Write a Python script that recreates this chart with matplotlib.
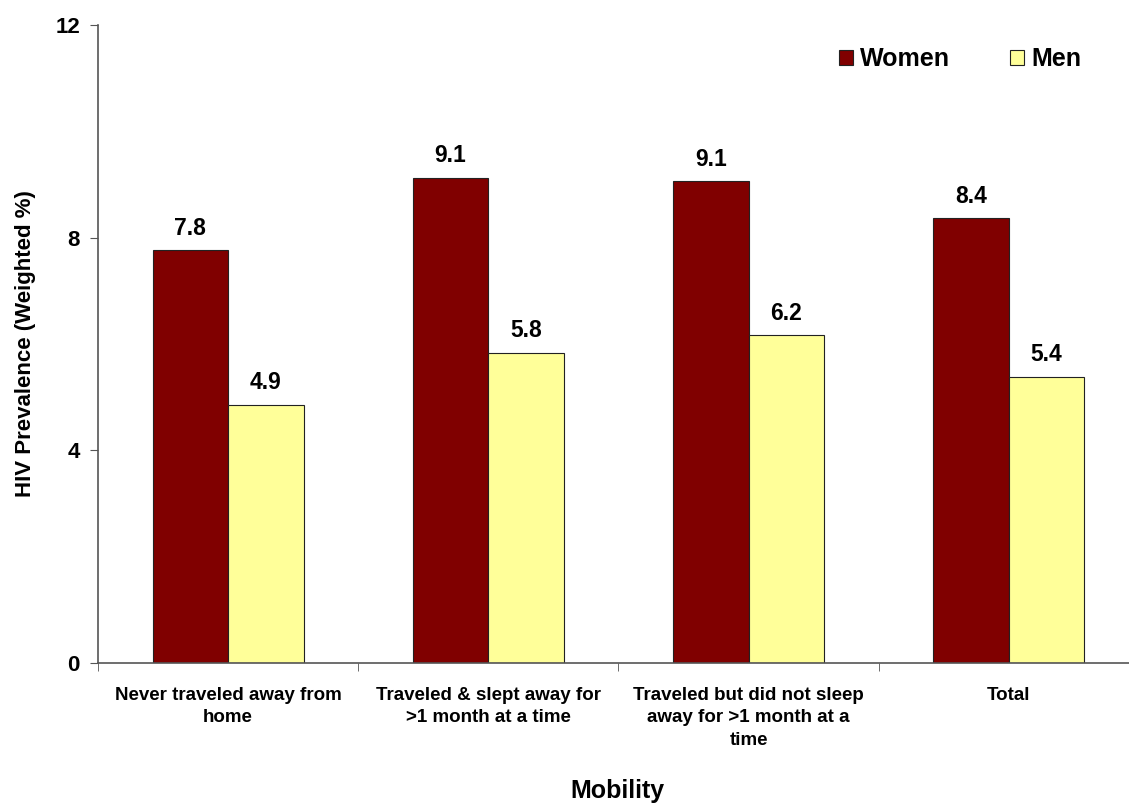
import matplotlib
matplotlib.use("Agg")
from matplotlib import pyplot as plt
import numpy as np

plt.rcParams['font.family'] = ['Liberation Sans', 'DejaVu Sans']
plt.rcParams['font.weight'] = 'bold'

categories = ['Never traveled away from\nhome',
              'Traveled & slept away for\n>1 month at a time',
              'Traveled but did not sleep\naway for >1 month at a\ntime',
              'Total']
women = [7.76, 9.12, 9.06, 8.36]
men = [4.86, 5.83, 6.16, 5.38]

fig = plt.figure(figsize=(11.29, 8.05), dpi=100)
ax = fig.add_axes([0.0868, 0.1764, 0.922, 0.7926])

x = np.arange(len(categories))
w = 0.29
b1 = ax.bar(x - w / 2, women, w, color='#800000', edgecolor='#222222', linewidth=0.8, label='Women')
b2 = ax.bar(x + w / 2, men, w, color='#FFFF99', edgecolor='#222222', linewidth=0.8, label='Men')

for bars, vals in ((b1, women), (b2, men)):
    for rect, v in zip(bars, vals):
        ax.text(rect.get_x() + rect.get_width() / 2, v + 0.2, '%.1f' % v,
                ha='center', va='bottom', fontsize=16.5, fontweight='bold')

ax.set_xlim(-0.5, len(categories) - 0.5)
ax.set_ylim(0, 12)
ax.set_yticks([0, 4, 8, 12])
ax.set_xticks(x)
ax.set_xticklabels(categories, fontsize=13.5, fontweight='bold', linespacing=1.45)
ax.set_xticks(np.arange(-0.5, len(categories), 1), minor=True)
ax.tick_params(axis='x', which='major', length=0, pad=17)
ax.tick_params(axis='x', which='minor', length=6, direction='out', color='#555555')
ax.tick_params(axis='y', length=6, direction='out', color='#555555', labelsize=16, pad=7)
for lab in ax.get_yticklabels():
    lab.set_fontweight('bold')

for s in ('top', 'right'):
    ax.spines[s].set_visible(False)
for s in ('left', 'bottom'):
    ax.spines[s].set_color('#555555')
    ax.spines[s].set_linewidth(1.2)

ax.set_ylabel('HIV Prevalence (Weighted %)', fontsize=16, fontweight='bold', labelpad=14)
fig.text(0.547, 0.002, 'Mobility', ha='center', va='bottom', fontsize=18, fontweight='bold')

ax.legend(loc='upper right', bbox_to_anchor=(0.958, 0.941), bbox_transform=fig.transFigure,
          ncol=2, frameon=False, borderaxespad=0, borderpad=0,
          fontsize=18, handlelength=0.55, handleheight=0.55, handletextpad=0.3,
          columnspacing=2.4)

fig.savefig('out.png', dpi=100)
